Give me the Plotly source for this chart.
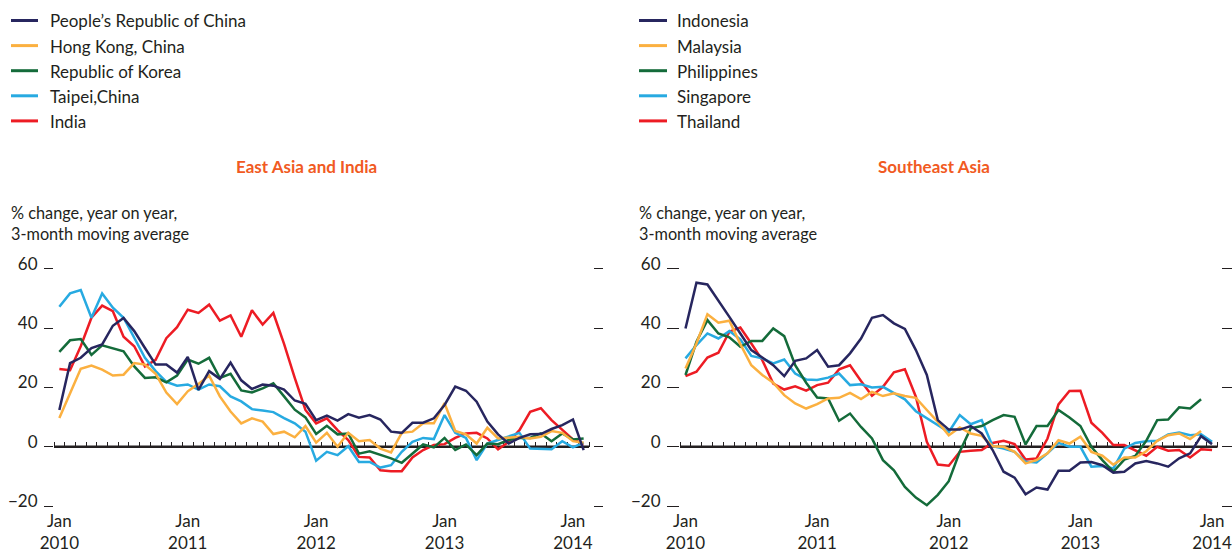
import plotly.graph_objects as go

# ---------------- data ----------------
year_labels = ["Jan<br>2010", "Jan<br>2011", "Jan<br>2012", "Jan<br>2013", "Jan<br>2014"]
jan_index = [0, 12, 24, 36, 48]
y_ticks = [-20, 0, 20, 40, 60]
y_ticktext = ["\u221220", "0", "20", "40", "60"]

# East Asia and India: Jan 2010 - Feb 2014 (monthly)
china = [12.4, 28.2, 30, 33.3, 34.5, 40.8, 43.4, 39, 33.3, 27.7,
         27.7, 25, 30.3, 19.2, 25.5, 22.9, 28.4, 22.4, 19.5, 21,
         20.6, 19.3, 15.6, 14.5, 9, 10.5, 8.8, 11, 9.8, 10.7,
         9.2, 5.1, 4.7, 8.1, 8.1, 9.6, 14.1, 20.3, 18.9, 15.2,
         8.5, 4.2, 1.1, 3, 4.2, 4.3, 6, 7.3, 9.2, -1.1]
hong_kong = [9.7, 18.1, 26.3, 27.4, 26, 24, 24.3, 28.2, 27.7, 24.6,
             18.3, 14.4, 18.7, 21.2, 24, 17, 11.9, 7.9, 9.6, 8.5,
             4.3, 5.1, 3.2, 7, 1.4, 4.7, 0, 4.7, 1.9, 2.3,
             -0.6, -1.9, 4.7, 5.1, 7.9, 7.9, 14.7, 5.3, 4.2, 1.1,
             6.4, 2.8, 3, 3.4, 2.8, 3.4, 5.3, 4.7, 1.9, 1.4]
korea = [32, 35.9, 36.3, 31, 34.2, 33.3, 32.2, 27.1, 23.2, 23.4,
         21.7, 24, 29.4, 28, 30, 23.2, 24.6, 19, 18.3, 19.7,
         21.4, 17, 12.5, 9.9, 4.3, 7.1, 4.2, 4.5, -2.3, -1.5,
         -2.6, -3.9, -5.4, -2.3, 0.8, -0.2, 3, -1.1, 0.8, -2.8,
         1.1, 0.9, 2.3, 3, 3, 4.5, 1.9, 4.5, 2.5, 2.8]
taipei = [47.2, 51.7, 52.8, 43.5, 51.7, 46.9, 43.5, 36.8, 30, 25.5,
          21.9, 20.6, 21, 19.3, 21, 20.4, 17, 15.3, 12.7, 12.2,
          11.7, 9.7, 7.9, 5.1, -4.7, -1.7, -2.8, 0.2, -5.1, -5.1,
          -7, -6.2, -1.7, 1.7, 3, 2.6, 10.7, 4.7, 3, -4.5,
          1.1, 2.3, 3.6, 4.7, -0.6, -0.8, -0.8, 1.9, -0.2, 1.4]
india = [26.2, 25.8, 33.9, 43.5, 47.6, 45.7, 37.1, 33.9, 27.1, 29.3,
         36.6, 40.3, 46.2, 45.1, 47.9, 42.5, 44.3, 37.1, 46, 41.2,
         45.1, 34.7, 23.2, 12.4, 7.9, 9.6, 5.6, 2.3, -3.4, -3.6,
         -7.9, -8.2, -8.2, -3.6, -1.1, 0.6, 0.9, 3, 4.5, 4.7,
         2.8, -0.9, 1.7, 5.6, 11.8, 13, 9, 5.6, 2.5, 0.8]

# Southeast Asia: Jan 2010 - Jan 2014 (monthly)
indonesia = [39.9, 55.3, 54.7, 49.4, 43.8, 38.2, 32.6, 30.1, 27.5, 23.8,
             29, 29.8, 32.6, 27, 27.5, 31.5, 36.5, 43.5, 44.4, 41.6,
             39.7, 32.6, 24.2, 9, 5.8, 5.8, 7, 4.5, -1.1, -8.4,
             -10.4, -16, -13.7, -14.4, -8.1, -8.1, -5.3, -5.1, -6.2, -8.7,
             -8.4, -5.6, -4.8, -5.6, -6.7, -3.9, -2.2, 3.6, 0.9]
malaysia = [26.4, 34.8, 44.7, 41.8, 42.5, 34.6, 27.5, 24.2, 21.6, 17.4,
            14.6, 12.9, 14.4, 16.3, 16.5, 18.2, 16.1, 18.5, 17.1, 18,
            17.1, 16.5, 12.4, 8.4, 3.9, 6.5, 4.5, 3.7, 0.2, 0,
            -1.7, -5.6, -4.5, -2.2, 2.2, 1.1, 3.4, -1.7, -3, -6,
            -3.6, -3.6, -1.5, 2, 3.9, 4.5, 2.6, 5.3]
philippines = [24.2, 35.4, 42.7, 38.2, 36.9, 33.7, 35.7, 35.7, 39.9, 37.3,
               27.5, 21.6, 16.6, 16.3, 8.8, 11.2, 6.7, 2.8, -4.5, -7.9,
               -13.5, -17.1, -19.7, -16.2, -11.6, -1.7, 6.2, 7, 9, 10.7,
               10.1, 0.8, 7, 7, 12.4, 9.9, 7, 0, -4.5, -8.4,
               -4.3, -3.1, 2, 9, 9.2, 13.3, 12.9, 16]
singapore = [29.8, 34.3, 38.2, 36.5, 39, 36.2, 30.6, 29.8, 28.1, 29.4,
             24.7, 22.7, 22.5, 23.3, 24.7, 20.8, 21.1, 20, 20.2, 18,
             16, 12, 9.6, 7.3, 5, 10.7, 7.6, 9, 0.2, -0.6,
             -1.7, -5, -5.3, -2.2, 1.3, 0, 0, -6.7, -6.5, -7.3,
             -0.6, 1.3, 1.9, 2, 4.2, 4.8, 3.9, 4.2, 1.7]
thailand = [23.8, 25.3, 30.1, 31.7, 38.8, 40.2, 34.8, 29.2, 21.3, 19.3,
            20.4, 18.9, 20.8, 21.6, 26.1, 27.5, 22.2, 17.2, 20.2, 25.1,
            26.1, 16.9, 1.7, -6, -6.4, -1.7, -1.3, -1.1, 1.3, 2,
            0.9, -4.3, -3.9, 2.8, 14.3, 18.8, 18.9, 8.1, 4.7, 0.6,
            0.6, -1.1, -3, 0, -1.3, -1.1, -3.6, -0.8, -1.1]

left_names = ["People\u2019s Republic of China", "Hong Kong, China", "Republic of Korea", "Taipei,China", "India"]
left_values = [china, hong_kong, korea, taipei, india]
right_names = ["Indonesia", "Malaysia", "Philippines", "Singapore", "Thailand"]
right_values = [indonesia, malaysia, philippines, singapore, thailand]

# ---------------- styling ----------------
COLORS = ["#27265F", "#FBB040", "#146B3A", "#27AAE1", "#ED1C24"]
TXT = "#231F20"
TITLE_C = "#F15A22"
FONT = "Lato"
W, H = 1232, 554


def px(x):
    return x / W


def py(y):
    return 1 - y / H


Y_TOP, Y_BOT, Y_ZERO, PX_PER_UNIT = 262, 512, 446.8, 2.967
y_range = [-(Y_BOT - Y_ZERO) / PX_PER_UNIT, (Y_ZERO - Y_TOP) / PX_PER_UNIT]
y_domain = [py(Y_BOT), py(Y_TOP)]

fig = go.Figure()

for vals, names, xa, ya in [(left_values, left_names, "x", "y"), (right_values, right_names, "x2", "y2")]:
    order = list(range(len(vals)))[::-1]
    for k in order:
        v = vals[k]
        fig.add_trace(go.Scatter(
            x=list(range(len(v))), y=v, mode="lines", name=names[k],
            line=dict(color=COLORS[k], width=2.5), xaxis=xa, yaxis=ya,
            showlegend=False, hoverinfo="skip"))


def xcfg(x0, x1, px_month):
    n_span = (x1 - x0) / px_month
    return dict(
        domain=[px(x0), px(x1)], range=[-0.5, -0.5 + n_span],
        anchor="free", position=py(Y_ZERO), automargin=False,
        showgrid=False, zeroline=False, showline=False,
        tickmode="array", tickvals=jan_index, ticktext=year_labels, ticks="",
        tickfont=dict(family=FONT, size=17, color=TXT),
        ticklabelstandoff=62, ticklabeloverflow="allow",
        minor=dict(tickmode="linear", tick0=-0.5, dtick=1, ticks="inside",
                   ticklen=5, tickwidth=1, tickcolor=TXT),
        layer="below traces", fixedrange=True)


def ycfg(anchor, ticklen):
    return dict(
        domain=y_domain, range=y_range, anchor=anchor, automargin=False,
        showgrid=False, zeroline=False, showline=False,
        tickmode="array", tickvals=y_ticks, ticktext=y_ticktext,
        ticks="outside", ticklen=ticklen, tickwidth=1, tickcolor=TXT,
        mirror="ticks", ticklabelshift=-5, ticklabelstandoff=3,
        ticklabeloverflow="allow",
        tickfont=dict(family=FONT, size=17, color=TXT), fixedrange=True)


fig.update_layout(
    template="none",
    xaxis=xcfg(54, 593, 10.7),
    yaxis=ycfg("x", 9),
    xaxis2=xcfg(680, 1221, 10.97),
    yaxis2=ycfg("x2", 12),
    width=W, height=H, autosize=False,
    margin=dict(l=0, r=0, t=0, b=0, pad=0, autoexpand=False),
    paper_bgcolor="white", plot_bgcolor="white",
    showlegend=False,
    font=dict(family=FONT, color=TXT),
)

shapes = []
annotations = []
# zero lines (x-axis rules)
for xa, ya, n in [("x", "y", len(china)), ("x2", "y2", len(indonesia))]:
    shapes.append(dict(type="line", xref=xa, yref=ya, x0=-0.5, x1=n - 0.5, y0=0, y1=0,
                       line=dict(color=TXT, width=2.5), layer="below"))

# custom legends
for names, lx0, lx1, tx in [(left_names, 11, 38, 48), (right_names, 639, 667, 675)]:
    for k, nm in enumerate(names):
        yy = 20.5 + 25.1 * k
        shapes.append(dict(type="line", xref="paper", yref="paper",
                           x0=px(lx0), x1=px(lx1), y0=py(yy), y1=py(yy),
                           line=dict(color=COLORS[k], width=3)))
        annotations.append(dict(text=nm, x=px(tx), y=py(yy + 0.5), xref="paper", yref="paper",
                                xanchor="left", yanchor="middle", showarrow=False,
                                font=dict(family=FONT, size=17, color=TXT)))

# panel titles
for title, cx in [("<b>East Asia and India</b>", 306), ("<b>Southeast Asia</b>", 934)]:
    annotations.append(dict(text=title, x=px(cx), y=py(166), xref="paper", yref="paper",
                            xanchor="center", yanchor="middle", showarrow=False,
                            font=dict(family=FONT, size=17, color=TITLE_C)))

# unit labels
for ux in [9, 637]:
    annotations.append(dict(text="% change, year on year,<br>3-month moving average",
                            x=px(ux), y=py(201), xref="paper", yref="paper",
                            xanchor="left", yanchor="top", align="left", showarrow=False,
                            font=dict(family=FONT, size=16.3, color=TXT)))

fig.update_layout(shapes=shapes, annotations=annotations)
fig.write_html("out.html", config={"displayModeBar": False},
               post_script="document.body.style.margin='0';document.body.style.overflow='hidden';")
